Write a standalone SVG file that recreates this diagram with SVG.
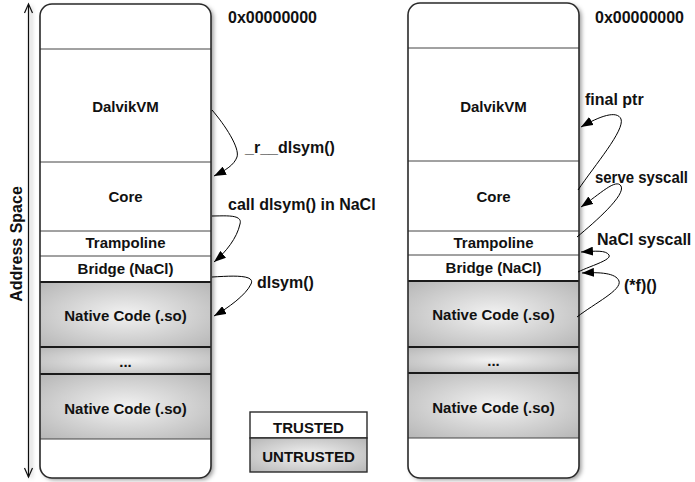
<svg xmlns="http://www.w3.org/2000/svg" width="695" height="482" viewBox="0 0 695 482">
<defs>
<radialGradient id="ug" cx="50%" cy="50%" r="75%">
<stop offset="0" stop-color="#f2f2f2"/>
<stop offset="1" stop-color="#b2b2b2"/>
</radialGradient>
<filter id="sh" x="-20%" y="-5%" width="140%" height="110%">
<feDropShadow dx="2.5" dy="2" stdDeviation="2" flood-color="#000" flood-opacity="0.4"/>
</filter>
<filter id="lsh" filterUnits="userSpaceOnUse" x="15" y="0" width="35" height="482">
<feDropShadow dx="2.5" dy="1" stdDeviation="2" flood-color="#000" flood-opacity="0.4"/>
</filter>
<marker id="ah" markerWidth="13" markerHeight="9" refX="12" refY="4.5" orient="auto" markerUnits="userSpaceOnUse">
<path d="M0,0 L12,4.5 L0,9 Z" fill="#000"/>
</marker>
</defs>
<style>
text{font-family:"Liberation Sans",Arial,sans-serif;font-weight:bold;fill:#111}
.n{font-size:15px;text-anchor:middle}
.l{font-size:16px}
.div{stroke:#444;stroke-width:1}
.dk{stroke:#1a1a1a;stroke-width:1.8}
.outer{fill:none;stroke:#2a2a2a;stroke-width:1.6}
.bg{fill:#fff;stroke:none}
.un{fill:url(#ug)}
.c{fill:none;stroke:#000;stroke-width:1}
</style>

<!-- Address space axis -->
<g id="axis">
<line x1="28.5" y1="5" x2="28.5" y2="477" stroke="#111" stroke-width="1.2" filter="url(#lsh)"/>
<polyline points="24.5,13 28.5,4 32.5,13" fill="none" stroke="#111" stroke-width="1.2"/>
<polyline points="24.5,468 28.5,477 32.5,468" fill="none" stroke="#111" stroke-width="1.2"/>
<text class="l" transform="translate(22,244) rotate(-90)" text-anchor="middle">Address Space</text>
</g>

<!-- Left column -->
<g id="left-column">
<rect class="bg" x="40" y="4" width="171" height="474" rx="12" filter="url(#sh)"/>
<g id="left-top"><rect x="40" y="4" width="171" height="45" fill="none"/></g>
<g id="left-dalvik"><text class="n" x="125.5" y="112">DalvikVM</text></g>
<g id="left-core"><text class="n" x="125.5" y="202">Core</text></g>
<g id="left-trampoline"><text class="n" x="125.5" y="248">Trampoline</text></g>
<g id="left-bridge"><text class="n" x="125.5" y="274">Bridge (NaCl)</text></g>
<g id="left-native1"><rect class="un" x="40" y="282" width="171" height="65"/><text class="n" x="125.5" y="321">Native Code (.so)</text></g>
<g id="left-dots"><rect class="un" x="40" y="347" width="171" height="27"/><text class="n" x="125.5" y="367">...</text></g>
<g id="left-native2"><rect class="un" x="40" y="374" width="171" height="65"/><text class="n" x="125.5" y="414">Native Code (.so)</text></g>
<line class="div" x1="40" y1="49" x2="211" y2="49"/>
<line class="div" x1="40" y1="162" x2="211" y2="162"/>
<line class="div" x1="40" y1="231" x2="211" y2="231"/>
<line class="div" x1="40" y1="256" x2="211" y2="256"/>
<line class="dk" x1="40" y1="282" x2="211" y2="282"/>
<line class="dk" x1="40" y1="347" x2="211" y2="347"/>
<line class="dk" x1="40" y1="374" x2="211" y2="374"/>
<line class="div" x1="40" y1="439" x2="211" y2="439"/>
<rect class="outer" x="40" y="4" width="171" height="474" rx="12"/>
<text class="l" x="228" y="23">0x00000000</text>
</g>

<!-- Right column -->
<g id="right-column">
<rect class="bg" x="408" y="3" width="171" height="475" rx="12" filter="url(#sh)"/>
<g id="right-top"><rect x="408" y="3" width="171" height="45" fill="none"/></g>
<g id="right-dalvik"><text class="n" x="493.5" y="112">DalvikVM</text></g>
<g id="right-core"><text class="n" x="493.5" y="202">Core</text></g>
<g id="right-trampoline"><text class="n" x="493.5" y="248">Trampoline</text></g>
<g id="right-bridge"><text class="n" x="493.5" y="273">Bridge (NaCl)</text></g>
<g id="right-native1"><rect class="un" x="408" y="281" width="171" height="66"/><text class="n" x="493.5" y="320">Native Code (.so)</text></g>
<g id="right-dots"><rect class="un" x="408" y="347" width="171" height="26"/><text class="n" x="493.5" y="366">...</text></g>
<g id="right-native2"><rect class="un" x="408" y="373" width="171" height="65"/><text class="n" x="493.5" y="413">Native Code (.so)</text></g>
<line class="div" x1="408" y1="48" x2="579" y2="48"/>
<line class="div" x1="408" y1="161" x2="579" y2="161"/>
<line class="div" x1="408" y1="231" x2="579" y2="231"/>
<line class="div" x1="408" y1="255" x2="579" y2="255"/>
<line class="dk" x1="408" y1="281" x2="579" y2="281"/>
<line class="dk" x1="408" y1="347" x2="579" y2="347"/>
<line class="dk" x1="408" y1="373" x2="579" y2="373"/>
<line class="div" x1="408" y1="438" x2="579" y2="438"/>
<rect class="outer" x="408" y="3" width="171" height="475" rx="12"/>
<text class="l" x="595" y="23">0x00000000</text>
</g>

<!-- Legend -->
<g id="legend-trusted">
<rect x="250" y="412" width="117" height="26" fill="#fff" stroke="#2a2a2a" stroke-width="1.4"/>
<text class="n" x="308.5" y="433">TRUSTED</text>
</g>
<g id="legend-untrusted">
<rect class="un" x="250" y="438" width="117" height="34" stroke="#2a2a2a" stroke-width="1.4"/>
<text class="n" x="308.5" y="462">UNTRUSTED</text>
</g>

<!-- Connectors -->
<g id="connectors">
<path class="c" marker-end="url(#ah)" d="M212,110 C225,125 240,148 237,157 C234,165 226,170 214,176"/>
<path class="c" marker-end="url(#ah)" d="M212,216 C225,216 243,214 240,224 C237,238 226,252 214,262"/>
<path class="c" marker-end="url(#ah)" d="M212,277 C230,276 256,274 251,284 C246,295 228,308 214,316"/>
<path class="c" marker-end="url(#ah)" d="M578,190 C595,165 625,130 621,119 C617,110 600,116 581,127"/>
<path class="c" marker-end="url(#ah)" d="M577,237 C595,222 626,195 621,186 C616,178 600,194 581,207"/>
<path class="c" marker-end="url(#ah)" d="M578,272 C590,266 612,260 609,255 C606,250 595,251 581,252"/>
<path class="c" marker-end="url(#ah)" d="M577,317 C595,303 622,290 619,281 C616,273 600,272 582,273"/>
</g>

<!-- Connector labels -->
<g id="connector-labels">
<text class="l" x="595" y="183" textLength="93" lengthAdjust="spacingAndGlyphs">serve syscall</text>
<text class="l" x="245" y="153">_r__dlsym()</text>
<text class="l" x="228" y="210">call dlsym() in NaCl</text>
<text class="l" x="257" y="288">dlsym()</text>
<text class="l" x="585" y="105">final ptr</text>
<text class="l" x="597" y="245">NaCl syscall</text>
<text class="l" x="624" y="291">(*f)()</text>
</g>
</svg>
